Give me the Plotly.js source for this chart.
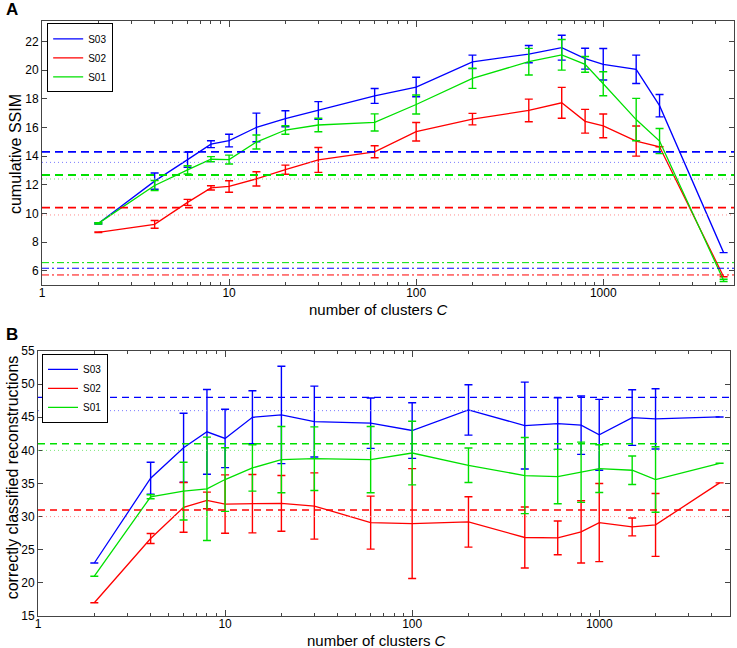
<!DOCTYPE html>
<html>
<head>
<meta charset="utf-8">
<script src="https://cdn.plot.ly/plotly-3.0.1.min.js"></script>
<style>
  html, body { margin: 0; padding: 0; background: #fff; }
  #chart { width: 737px; height: 648px; }
</style>
</head>
<body>
<div id="chart"></div>
<script>
// number of clusters C (shared by both panels)
var clusters = [2, 4, 6, 8, 10, 14, 20, 30, 60, 100, 200, 400, 600, 800, 1000, 1500, 2000, 4400];
var subjects = ['S03', 'S02', 'S01'];
var colors = {S03: '#0000ff', S02: '#ff0000', S01: '#00e000'};
var lightColors = {S03: '#7a7aff', S02: '#ff8a8a', S01: '#7ae67a'};

// panel A : cumulative SSIM
var ssimS03 = [9.3, 12.25, 13.75, 14.83, 15.08, 16.0, 16.61, 17.18, 18.2, 18.82, 20.58, 21.12, 21.57, 20.8, 20.41, 20.06, 17.52, 7.26];
var ssimErrS03 = [0.05, 0.57, 0.53, 0.24, 0.44, 1.0, 0.56, 0.62, 0.52, 0.68, 0.47, 0.6, 0.87, 0.73, 1.1, 0.99, 0.78, 0];
var ssimS02 = [8.68, 9.23, 10.77, 11.78, 11.88, 12.41, 13.05, 13.73, 14.3, 15.7, 16.58, 17.19, 17.72, 16.43, 16.11, 15.05, 14.65, 5.58];
var ssimErrS02 = [0.02, 0.27, 0.21, 0.15, 0.4, 0.5, 0.32, 0.87, 0.42, 0.65, 0.4, 0.79, 1.08, 0.83, 0.83, 1.05, 0, 0];
var ssimS01 = [9.3, 11.95, 13.04, 13.78, 13.76, 14.98, 15.82, 16.17, 16.35, 17.6, 19.43, 20.59, 21.07, 20.4, 19.05, 16.55, 15.05, 5.32];
var ssimErrS01 = [0.05, 0.35, 0.29, 0.18, 0.31, 0.49, 0.3, 0.47, 0.6, 0.66, 0.7, 0.93, 1.07, 0.55, 0.84, 1.48, 0.88, 0.08];
// horizontal reference levels, panel A
var ssimDashed = {S03: 14.3, S02: 10.4, S01: 12.68};
var ssimDotted = {S03: 13.56, S02: 9.89, S01: 12.4};
var ssimDashDot = {S03: 6.17, S02: 5.7, S01: 6.56};

// panel B : correctly classified reconstructions
var corrS03 = [23, 35.8, 40.4, 42.8, 41.8, 45.0, 45.35, 44.35, 44.1, 43.0, 46.1, 43.75, 44.05, 43.8, 42.35, 44.95, 44.75, 45.05];
var corrErrS03 = [0, 2.4, 5.2, 6.4, 4.4, 4.0, 7.35, 5.35, 3.8, 4.2, 3.8, 6.55, 3.9, 4.4, 5.35, 4.2, 4.55, 0];
var corrS02 = [17, 26.7, 31.4, 32.45, 31.9, 31.95, 32.0, 31.6, 29.1, 28.95, 29.2, 26.85, 26.8, 27.7, 29.1, 28.45, 28.75, 35.1];
var corrErrS02 = [0, 0.75, 3.75, 1.25, 4.4, 4.4, 4.2, 5.0, 4.0, 8.3, 3.8, 4.6, 2.55, 4.7, 5.9, 1.35, 4.75, 0];
var corrS01 = [21, 33.0, 33.85, 34.2, 35.6, 37.35, 38.6, 38.75, 38.6, 39.6, 37.75, 36.2, 36.05, 36.7, 37.25, 37.0, 35.6, 38.05];
var corrErrS01 = [0, 0.3, 4.35, 7.8, 4.8, 3.5, 5.0, 4.8, 5.0, 4.8, 2.6, 5.75, 4.1, 4.55, 3.6, 2.15, 4.95, 0];
var corrDashed = {S03: 48, S02: 31, S01: 41};
var corrDotted = {S03: 46, S02: 30, S01: 40};

var majorTicks = [1, 10, 100, 1000];
var minorTicks = [2, 3, 4, 5, 6, 7, 8, 9, 20, 30, 40, 50, 60, 70, 80, 90,
                  200, 300, 400, 500, 600, 700, 800, 900, 2000, 3000, 4000, 5000];
var ssimTicks = [6, 8, 10, 12, 14, 16, 18, 20, 22];
var corrTicks = [15, 20, 25, 30, 35, 40, 45, 50, 55];

var xLabel = 'number of clusters <i>C</i>';
var yLabelA = 'cumulative SSIM';
var yLabelB = 'correctly classified reconstructions';

var font = 'Liberation Sans, Arial, Helvetica, sans-serif';

var seriesA = {S03: [ssimS03, ssimErrS03], S02: [ssimS02, ssimErrS02], S01: [ssimS01, ssimErrS01]};
var seriesB = {S03: [corrS03, corrErrS03], S02: [corrS02, corrErrS02], S01: [corrS01, corrErrS01]};

function makeTrace(name, vals, errs, xa, ya, leg) {
    return {
        x: clusters,
        y: vals,
        name: name,
        type: 'scatter',
        mode: 'lines',
        xaxis: xa,
        yaxis: ya,
        legend: leg,
        line: {color: colors[name], width: 1.3},
        error_y: {type: 'data', array: errs, visible: true, color: colors[name], thickness: 1.4, width: 4}
    };
}

var traces = [];
subjects.forEach(function (s) {
    traces.push(makeTrace(s, seriesA[s][0], seriesA[s][1], 'x', 'y', 'legend'));
});
subjects.forEach(function (s) {
    traces.push(makeTrace(s, seriesB[s][0], seriesB[s][1], 'x2', 'y2', 'legend2'));
});

function hline(val, xa, ya, col, w, dash) {
    return {
        type: 'line', xref: xa + ' domain', yref: ya,
        x0: 0, x1: 1, y0: val, y1: val,
        line: {color: col, width: w, dash: dash}
    };
}

var shapes = [];
subjects.forEach(function (s) {
    shapes.push(hline(ssimDashed[s], 'x', 'y', colors[s], 1.8, '8px,5px'));
    shapes.push(hline(ssimDotted[s], 'x', 'y', lightColors[s], 1, '1px,3px'));
    shapes.push(hline(ssimDashDot[s], 'x', 'y', colors[s], 1, '7px,3px,2px,3px'));
    shapes.push(hline(corrDashed[s], 'x2', 'y2', colors[s], 1.3, '7px,5px'));
    shapes.push(hline(corrDotted[s], 'x2', 'y2', lightColors[s], 1, '1px,3px'));
});

function xAxis(dom, anchor) {
    return {
        type: 'log',
        domain: dom,
        anchor: anchor,
        range: [0, Math.log10(5000)],
        tickmode: 'array',
        tickvals: majorTicks,
        ticktext: majorTicks.map(String),
        ticks: 'inside',
        ticklen: 6,
        tickcolor: '#444',
        ticklabelstandoff: -3,
        showline: true,
        linecolor: '#444',
        linewidth: 1,
        mirror: 'ticks',
        showgrid: false,
        zeroline: false,
        tickfont: {family: font, size: 12, color: '#000'},
        minor: {tickmode: 'array', tickvals: minorTicks, ticks: 'inside', ticklen: 3, tickcolor: '#444', showgrid: false}
    };
}

function yAxis(dom, anchor, range, tv) {
    return {
        domain: dom,
        anchor: anchor,
        range: range,
        tickmode: 'array',
        tickvals: tv,
        ticks: 'inside',
        ticklen: 5,
        tickcolor: '#444',
        showline: true,
        linecolor: '#444',
        linewidth: 1,
        mirror: 'ticks',
        showgrid: false,
        zeroline: false,
        tickfont: {family: font, size: 12, color: '#000'}
    };
}

var legendStyle = function (x, y) {
    return {
        x: x, y: y, xanchor: 'left', yanchor: 'top',
        bgcolor: '#fff', bordercolor: '#000', borderwidth: 1,
        font: {family: font, size: 10, color: '#000'},
        tracegroupgap: 0, itemwidth: 30
    };
};

function label(text, x, y, angle, size, bold) {
    return {
        text: bold ? '<b>' + text + '</b>' : text,
        xref: 'paper', yref: 'paper', x: x, y: y,
        xanchor: 'center', yanchor: 'middle', textangle: angle,
        showarrow: false, font: {family: font, size: size, color: '#000'}
    };
}

var layout = {
    width: 737,
    height: 648,
    margin: {l: 0, r: 0, t: 0, b: 0},
    paper_bgcolor: '#fff',
    plot_bgcolor: '#fff',
    showlegend: true,
    xaxis: xAxis([42 / 737, 734 / 737], 'y'),
    yaxis: yAxis([0.5602, 0.968], 'x', [5, 23.45], ssimTicks),
    xaxis2: xAxis([38 / 737, 730 / 737], 'y2'),
    yaxis2: yAxis([0.0494, 0.4583], 'x2', [15, 55], corrTicks),
    legend: legendStyle(0.064, 0.964),
    legend2: legendStyle(0.057, 0.454),
    shapes: shapes,
    annotations: [
        label('A', 0.016, 0.986, 0, 17, true),
        label('B', 0.016, 0.484, 0, 17, true),
        label(xLabel, 378 / 737, 0.5231, 0, 15, false),
        label(xLabel, 376 / 737, 0.0123, 0, 15, false),
        label(yLabelA, 15 / 737, 0.7623, -90, 16, false),
        label(yLabelB, 12 / 737, 0.2634, -90, 16, false)
    ]
};

Plotly.newPlot('chart', traces, layout, {displayModeBar: false, staticPlot: true});
</script>
</body>
</html>
